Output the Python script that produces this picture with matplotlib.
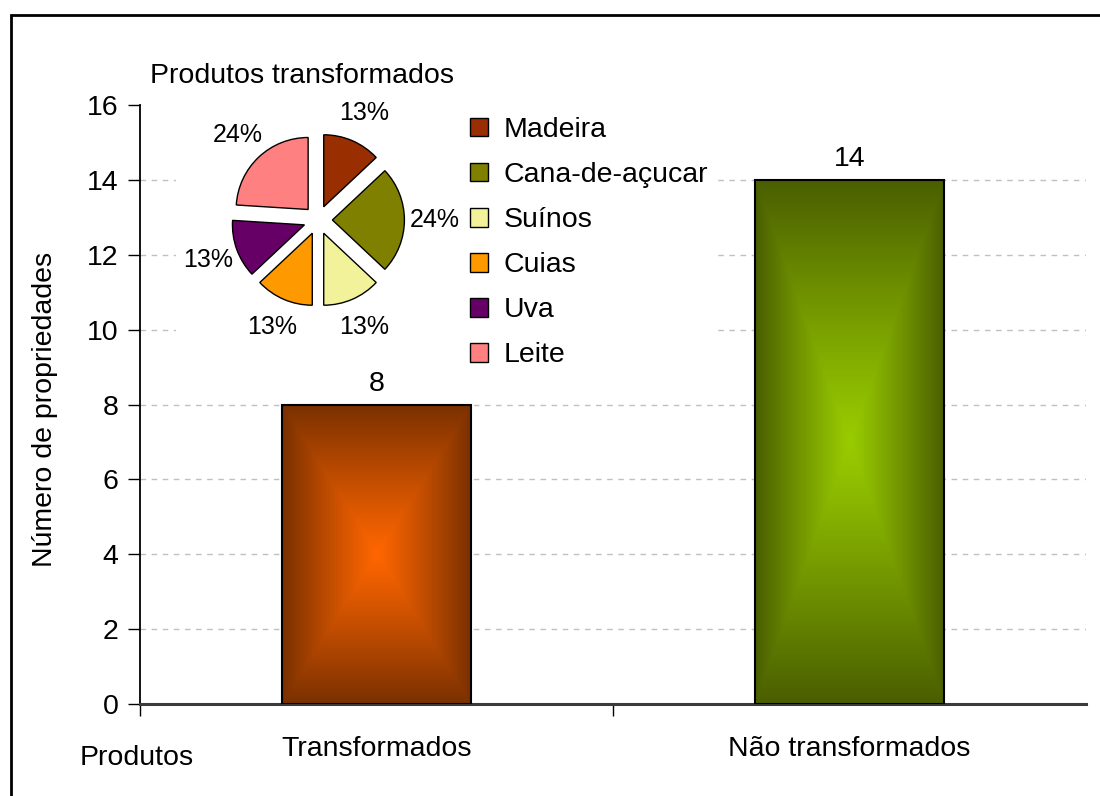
import numpy as np
import matplotlib
matplotlib.use('Agg')
import matplotlib.pyplot as plt
from matplotlib.colors import to_rgb
from matplotlib.patches import Rectangle

plt.rcParams['font.family'] = ['Liberation Sans', 'DejaVu Sans']

# Dados das barras
categorias = ['Transformados', 'Não transformados']
propriedades = [8, 14]
cor_centro = ['#ff6600', '#99cc00']
cor_borda = ['#7a3000', '#4a5e00']

# Dados da pizza (produtos transformados, %)
produtos = ['Madeira', 'Cana-de-açucar', 'Suínos', 'Cuias', 'Uva', 'Leite']
percentuais = [13, 24, 13, 13, 13, 24]
cores_pizza = ['#992e00', '#808000', '#f2f29a', '#ff9900', '#660066', '#ff8080']

W, H = 1100, 796
FS = 20.5


def fx(px):
    return px / W


def fy(py):
    return 1 - py / H


fig = plt.figure(figsize=(W / 100, H / 100), dpi=100)

# eixo principal
ax = fig.add_axes([fx(140), fy(704), (1086 - 140) / W, (704 - 105) / H])
x = np.arange(len(categorias))
bars = ax.bar(x, propriedades, width=0.4, facecolor='none',
              edgecolor='black', linewidth=1.5, zorder=3)

# gradiente retangular dentro de cada barra
ny, nx = 200, 120
u = np.linspace(-1, 1, nx)[None, :]
v = np.linspace(-1, 1, ny)[:, None]
d = np.maximum(np.abs(u), np.abs(v)) ** 1.1
for b, c0, c1 in zip(bars, cor_centro, cor_borda):
    c0 = np.array(to_rgb(c0))
    c1 = np.array(to_rgb(c1))
    img = c0[None, None, :] * (1 - d[..., None]) + c1[None, None, :] * d[..., None]
    x0 = b.get_x()
    ax.imshow(img, extent=[x0, x0 + b.get_width(), 0, b.get_height()],
              aspect='auto', origin='lower', zorder=2.9, interpolation='bilinear')

for b, val in zip(bars, propriedades):
    ax.annotate(str(val), (b.get_x() + b.get_width() / 2, val), xytext=(0, 14),
                textcoords='offset pixels', ha='center', va='baseline', fontsize=FS)

ax.set_xlim(-0.5, 1.5)
ax.set_ylim(0, 16)
ax.set_yticks(range(0, 17, 2))
ax.set_xticks([-0.5, 0.5])
ax.set_xticklabels(['', ''])
ax.set_xticks(x, minor=True)
ax.set_xticklabels(categorias, minor=True)
ax.tick_params(axis='y', direction='out', length=8.6, width=1, pad=7, labelsize=FS)
ax.tick_params(axis='x', which='major', direction='out', length=8.6, width=1)
ax.tick_params(axis='x', which='minor', length=0, pad=23, labelsize=FS)
ax.yaxis.grid(True, linestyle=(0, (4, 4)), color='#c0c0c0', linewidth=1)
ax.yaxis.get_gridlines()[-1].set_visible(False)
ax.set_axisbelow(True)
for s in ['top', 'right']:
    ax.spines[s].set_visible(False)
ax.spines['bottom'].set_linewidth(2.2)
ax.spines['bottom'].set_color('#3a3a3a')
ax.spines['left'].set_linewidth(1.3)
ax.set_ylabel('Número de propriedades', fontsize=FS, va='center')
ax.yaxis.set_label_coords(-0.1004, 0.491)

fig.text(fx(80), fy(758), 'Produtos', ha='left', va='center', fontsize=FS)

# pizza inserida
pl, pr, pt, pb = 176, 715, 60, 370
cx, cy, r = 318, 220, 72
pax = fig.add_axes([fx(pl), fy(pb), (pr - pl) / W, (pb - pt) / H])
wedges, _, autotexts = pax.pie(
    percentuais, colors=cores_pizza, startangle=90, counterclock=False,
    explode=[0.2] * len(percentuais), autopct=lambda p: f'{p:.0f}%',
    pctdistance=1.42, wedgeprops=dict(edgecolor='black', linewidth=1),
    textprops=dict(fontsize=18))
pax.set_aspect('auto')
pax.set_xlim(-(cx - pl) / r, (pr - cx) / r)
pax.set_ylim(-(pb - cy) / r, (cy - pt) / r)
pax.set_frame_on(True)
for s in pax.spines.values():
    s.set_visible(False)
pax.set_facecolor('white')
pax.set_xticks([])
pax.set_yticks([])

pax.legend(wedges, produtos, loc='upper left', bbox_to_anchor=(fx(470), fy(117)),
           bbox_transform=fig.transFigure, frameon=False, fontsize=FS,
           handlelength=0.64, handleheight=0.64, handletextpad=0.55,
           labelspacing=0.67, borderpad=0, borderaxespad=0)

fig.text(fx(150), fy(76), 'Produtos transformados', ha='left', va='center', fontsize=FS)

# moldura externa
fig.add_artist(Rectangle((fx(11), -0.1), 1.2, fy(15) + 0.1, transform=fig.transFigure,
                         fill=False, linewidth=2, edgecolor='black'))

fig.savefig('out.png', dpi=100)
